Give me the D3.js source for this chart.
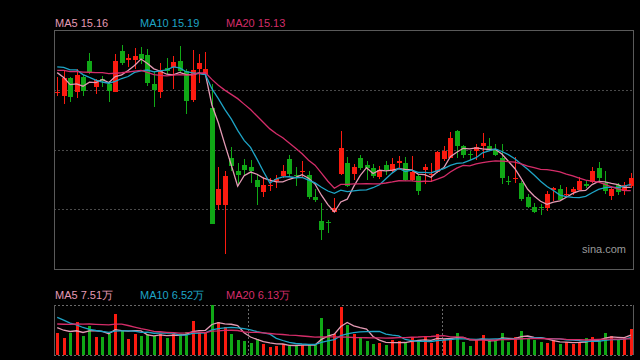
<!DOCTYPE html>
<html><head><meta charset="utf-8">
<script src="https://cdn.jsdelivr.net/npm/d3@7"></script>
<style>html,body{margin:0;padding:0;background:#000;}svg{display:block;}</style>
</head><body><svg id="c" width="640" height="360"></svg>
<script>
// ---- data (prices in CNY, volume in 万) ----
const priorCloses = [16.27,16.31,16.25,16.29,16.33,16.30,16.26,16.32,16.35,16.31,16.31,16.31,16.30,16.60,16.60,16.50,16.43,16.25,16.25];
const opens  = [16.11,16.08,16.26,16.12,16.27,16.43,16.17,16.25,16.20,16.12,16.53,16.44,16.44,16.50,16.49,16.20,16.12,16.36,16.37,16.43,16.33,16.04,16.35,16.30,15.96,14.98,14.98,15.45,15.32,15.38,15.36,15.23,15.11,15.17,15.22,15.27,15.44,15.28,15.31,15.28,15.06,14.82,14.81,14.91,15.30,15.40,15.29,15.45,15.38,15.35,15.26,15.38,15.32,15.40,15.40,15.23,15.27,15.33,15.28,15.31,15.44,15.46,15.73,15.58,15.49,15.53,15.58,15.58,15.54,15.45,15.22,15.24,15.20,15.06,14.96,14.96,14.95,15.13,15.14,15.08,15.11,15.13,15.19,15.21,15.35,15.20,15.07,15.18,15.12,15.17];
const closes = [16.12,16.26,16.07,16.29,16.13,16.32,16.24,16.23,16.13,16.43,16.41,16.46,16.48,16.45,16.21,16.14,16.34,16.33,16.42,16.33,16.03,16.34,16.41,16.35,14.80,15.14,15.27,15.37,15.28,15.33,15.32,15.16,15.18,15.18,15.24,15.32,15.29,15.27,15.32,15.06,15.03,14.73,14.80,14.95,15.56,15.17,15.36,15.35,15.35,15.27,15.33,15.33,15.39,15.42,15.23,15.31,15.12,15.36,15.29,15.51,15.52,15.66,15.58,15.49,15.48,15.57,15.61,15.55,15.49,15.25,15.21,15.25,15.04,14.96,14.91,14.95,15.09,15.15,15.03,15.09,15.14,15.22,15.17,15.32,15.25,15.12,15.14,15.11,15.18,15.25];
const highs  = [16.27,16.33,16.27,16.35,16.29,16.51,16.25,16.28,16.23,16.50,16.59,16.50,16.56,16.57,16.55,16.33,16.41,16.46,16.48,16.58,16.35,16.54,16.50,16.52,16.20,15.36,15.32,15.57,15.40,15.44,15.43,15.28,15.26,15.25,15.28,15.38,15.48,15.36,15.42,15.32,15.14,15.00,14.83,15.05,15.73,15.46,15.39,15.48,15.42,15.39,15.37,15.42,15.45,15.47,15.46,15.47,15.29,15.39,15.40,15.52,15.58,15.72,15.74,15.59,15.52,15.60,15.71,15.66,15.60,15.60,15.27,15.46,15.22,15.09,15.00,14.99,15.12,15.16,15.18,15.16,15.16,15.26,15.23,15.36,15.41,15.32,15.17,15.20,15.21,15.30];
const lows   = [16.08,16.00,16.02,16.06,16.08,16.30,16.10,16.17,16.02,16.12,16.39,16.37,16.35,16.40,16.18,15.97,16.06,16.30,16.15,16.31,15.90,16.02,16.21,16.28,14.79,14.93,14.49,15.32,15.18,15.27,15.20,14.98,15.06,15.12,15.15,15.25,15.27,15.17,15.25,15.04,15.01,14.63,14.70,14.91,15.28,15.16,15.23,15.33,15.23,15.25,15.24,15.28,15.30,15.35,15.22,15.22,15.08,15.19,15.21,15.30,15.42,15.45,15.45,15.45,15.43,15.43,15.45,15.53,15.47,15.19,15.18,15.20,15.02,14.95,14.90,14.88,14.92,15.02,15.02,15.07,15.08,15.13,15.15,15.20,15.21,15.09,15.03,15.08,15.08,15.15];
const priorVolumes = [8.29,9.80,9.05,7.54,10.56,9.43,8.67,10.18,9.05,9.05,16.97,19.60,18.85,17.34,17.91,11.31,10.56,10.93,10.48];
const volumes = [8.18,6.52,8.18,12.33,7.28,11.05,6.90,6.79,7.80,15.34,9.05,6.03,7.80,7.28,7.80,7.28,7.80,6.52,7.80,7.80,8.78,12.93,8.78,8.18,18.85,12.33,10.67,7.92,5.66,5.28,4.41,6.03,4.03,3.13,3.51,4.03,3.51,3.77,3.77,4.03,3.77,14.06,9.80,7.80,18.21,11.31,7.92,6.30,5.28,4.15,4.41,3.77,5.66,5.28,4.41,6.67,5.28,6.90,4.41,7.92,5.92,5.92,8.41,5.01,3.39,5.66,7.54,5.28,5.28,8.41,5.01,6.90,9.05,6.41,5.66,4.90,4.52,5.66,4.15,4.90,4.15,4.90,6.41,6.90,5.28,8.41,7.16,5.66,6.41,9.90];
const maPeriods = [5, 10, 20];
const priceMaValues = ["15.16", "15.19", "15.13"];
const volMaValues = ["7.51万", "6.52万", "6.13万"];
const separators = [30, 60];

// ---- styling ----
const maColors = ["#e49ab4", "#1ea4c6", "#d42d69"];
const UP = "#fb1b10", DOWN = "#10a816";
const L = 54, R = 634, T = 30, B = 269, VT = 305, VB = 355;
const FONT = "'Liberation Sans', Arial, sans-serif";

const svg = d3.select("#c");
svg.append("rect").attr("width",640).attr("height",360).attr("fill","#000");

const n = closes.length;
const x = d3.scaleBand().domain(d3.range(n)).range([L, R]);
const cx = i => x(i) + x.bandwidth()/2;
const lo = d3.min(lows), hi = d3.max(highs), pad = (hi-lo)*0.07;
const y = d3.scaleLinear().domain([lo-pad, hi+pad]).range([B, T]);
const yv = d3.scaleLinear().domain([0, d3.max(volumes)]).range([VB, VT]);

// grid
const g = svg.append("g").attr("shape-rendering","crispEdges");
[1,2,3].forEach(k => {
  const yy = Math.round(T + k*(B-T)/4) + 0.5;
  g.append("line").attr("x1",L).attr("x2",R).attr("y1",yy).attr("y2",yy)
    .attr("stroke","#4a4a4a").attr("stroke-dasharray","2,2");
});
g.append("rect").attr("x",L+0.5).attr("y",T+0.5).attr("width",R-L-1).attr("height",B-T)
  .attr("fill","none").attr("stroke","#5a5a5a");

// volume frame
[VT, VB].forEach(yy => g.append("line").attr("x1",L).attr("x2",R).attr("y1",yy+0.5).attr("y2",yy+0.5)
  .attr("stroke","#6a6a6a").attr("stroke-dasharray","2,2"));
[L, R-1].forEach(xx => g.append("line").attr("x1",xx+0.5).attr("x2",xx+0.5).attr("y1",VT).attr("y2",VB)
  .attr("stroke","#5a5a5a"));
separators.forEach(i => g.append("line").attr("x1",Math.round(x(i))+1.5).attr("x2",Math.round(x(i))+1.5)
  .attr("y1",VT).attr("y2",VB).attr("stroke","#6a6a6a").attr("stroke-dasharray","2,2"));

// candles
const cg = svg.append("g").attr("shape-rendering","crispEdges");
d3.range(n).forEach(i => {
  const col = closes[i] >= opens[i] ? UP : DOWN;
  const xc = Math.round(cx(i));
  cg.append("line").attr("x1",xc+0.5).attr("x2",xc+0.5)
    .attr("y1",y(highs[i])).attr("y2",y(lows[i])).attr("stroke",col);
  const top = y(Math.max(opens[i],closes[i])), bot = y(Math.min(opens[i],closes[i]));
  cg.append("rect").attr("x",xc-2).attr("width",5)
    .attr("y",Math.round(top)).attr("height",Math.max(1,Math.round(bot-top)))
    .attr("fill",col);
  // volume bars
  cg.append("rect").attr("x",xc-1).attr("width",3)
    .attr("y",Math.round(yv(volumes[i]))).attr("height",VB-Math.round(yv(volumes[i])))
    .attr("fill",col);
});

// moving averages
function ma(prior, vals, p) {
  const all = prior.concat(vals), off = prior.length;
  return vals.map((_, i) => d3.mean(all.slice(off+i-p+1, off+i+1)));
}
maPeriods.forEach((p, k) => {
  const m = ma(priorCloses, closes, p);
  svg.append("path").attr("d", d3.line().x((d,i)=>cx(i)).y(d=>y(d))(m))
    .attr("fill","none").attr("stroke",maColors[k]).attr("stroke-width",1.3);
  const mv = ma(priorVolumes, volumes, p);
  svg.append("path").attr("d", d3.line().x((d,i)=>cx(i)).y(d=>yv(d))(mv))
    .attr("fill","none").attr("stroke",maColors[k]).attr("stroke-width",1.3);
});

// labels
const labX = [55, 140, 226];
maPeriods.forEach((p, k) => {
  svg.append("text").attr("x",labX[k]).attr("y",27).attr("fill",maColors[k])
    .attr("font-family",FONT).attr("font-size",11).text("MA"+p+" "+priceMaValues[k]);
  svg.append("text").attr("x",labX[k]).attr("y",299).attr("fill",maColors[k])
    .attr("font-family",FONT).attr("font-size",11).text("MA"+p+" "+volMaValues[k]);
});
svg.append("text").attr("x",582).attr("y",253).attr("fill","#9a9a9a")
  .attr("font-family",FONT).attr("font-size",11).text("sina.com");
</script></body></html>
